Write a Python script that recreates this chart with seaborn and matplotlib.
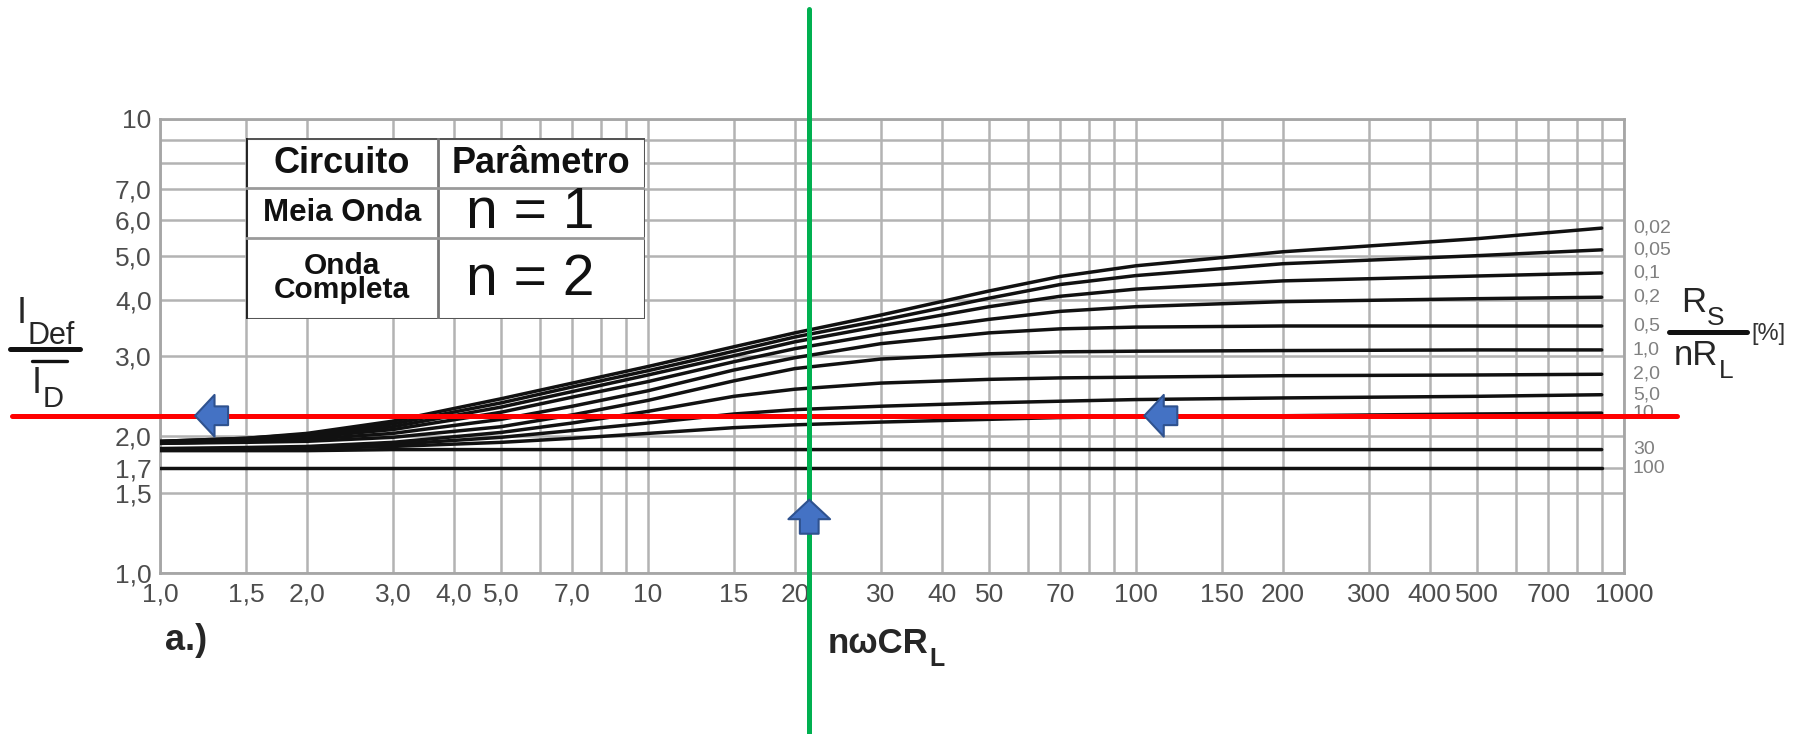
import numpy as np
import pandas as pd
import matplotlib
matplotlib.use('Agg')
import matplotlib.pyplot as plt
import matplotlib.transforms as mtransforms
from matplotlib.lines import Line2D
from matplotlib.patches import Rectangle
from matplotlib.ticker import NullLocator
import seaborn as sns

# ─────────────────────────────────────────────
# DADOS
# ─────────────────────────────────────────────
X_PTS = [1, 1.5, 2, 3, 5, 7, 10, 15, 20, 30, 50, 70, 100, 200, 500, 900]

RS_LABELS = ['0,02', '0,05', '0,1', '0,2', '0,5', '1,0', '2,0', '5,0', '10', '30', '100']

rs_0_02 = [1.95, 1.98, 2.03, 2.16, 2.42, 2.62, 2.85, 3.15, 3.38, 3.70, 4.18, 4.50, 4.75, 5.10, 5.45, 5.75]
rs_0_05 = [1.95, 1.98, 2.02, 2.13, 2.37, 2.57, 2.79, 3.08, 3.31, 3.60, 4.03, 4.32, 4.52, 4.80, 5.00, 5.15]
rs_0_1  = [1.94, 1.97, 2.00, 2.10, 2.32, 2.51, 2.73, 3.01, 3.23, 3.50, 3.86, 4.07, 4.22, 4.40, 4.51, 4.58]
rs_0_2  = [1.94, 1.96, 1.99, 2.07, 2.26, 2.44, 2.64, 2.92, 3.12, 3.36, 3.62, 3.77, 3.86, 3.96, 4.02, 4.05]
rs_0_5  = [1.93, 1.95, 1.97, 2.03, 2.18, 2.33, 2.52, 2.80, 2.98, 3.20, 3.38, 3.45, 3.48, 3.50, 3.50, 3.50]
rs_1_0  = [1.93, 1.94, 1.95, 1.99, 2.10, 2.23, 2.40, 2.65, 2.82, 2.96, 3.04, 3.07, 3.08, 3.09, 3.10, 3.10]
rs_2_0  = [1.88, 1.89, 1.90, 1.94, 2.04, 2.14, 2.27, 2.45, 2.54, 2.62, 2.67, 2.69, 2.70, 2.72, 2.73, 2.74]
rs_5_0  = [1.87, 1.88, 1.89, 1.92, 1.99, 2.06, 2.14, 2.24, 2.29, 2.33, 2.37, 2.39, 2.41, 2.43, 2.45, 2.47]
rs_10   = [1.87, 1.87, 1.88, 1.90, 1.94, 1.98, 2.03, 2.09, 2.12, 2.15, 2.18, 2.20, 2.21, 2.22, 2.24, 2.25]
rs_30   = [1.86, 1.86, 1.86, 1.87, 1.87, 1.87, 1.87, 1.87, 1.87, 1.87, 1.87, 1.87, 1.87, 1.87, 1.87, 1.87]
rs_100  = [1.70, 1.70, 1.70, 1.70, 1.70, 1.70, 1.70, 1.70, 1.70, 1.70, 1.70, 1.70, 1.70, 1.70, 1.70, 1.70]

CURVES = [rs_0_02, rs_0_05, rs_0_1, rs_0_2, rs_0_5, rs_1_0,
          rs_2_0, rs_5_0, rs_10, rs_30, rs_100]

X_GRID = [1, 1.5, 2, 3, 4, 5, 6, 7, 8, 9, 10, 15, 20, 30, 40, 50, 60, 70, 80, 90,
          100, 150, 200, 300, 400, 500, 600, 700, 800, 900, 1000]
X_LABELS = ['1,0', '1,5', '2,0', '3,0', '4,0', '5,0', '', '7,0', '', '', '10', '15',
            '20', '30', '40', '50', '', '70', '', '', '100', '150', '200', '300',
            '400', '500', '', '700', '', '', '1000']
Y_GRID = [1, 1.5, 1.7, 2, 3, 4, 5, 6, 7, 8, 9, 10]
Y_LABELS = ['1,0', '1,5', '1,7', '2,0', '3,0', '4,0', '5,0', '6,0', '7,0', '', '', '10']

# linhas de leitura (verde / vermelha)
READ_X = 21.4
READ_Y = 2.22

# ─────────────────────────────────────────────
# ESTILO
# ─────────────────────────────────────────────
sns.set_theme(style='white')
plt.rcParams['font.family'] = ['Liberation Sans', 'DejaVu Sans']
NARROW = ['Liberation Sans Narrow', 'Liberation Sans', 'DejaVu Sans']

W, H = 1802, 734
fig = plt.figure(figsize=(W / 100, H / 100), dpi=100)


def fx(px):
    return px / W


def fy(py):
    return 1 - py / H


ax = fig.add_axes([fx(160), fy(573), (1624 - 160) / W, (573 - 119) / H])

df = pd.DataFrame({
    'x': X_PTS * len(CURVES),
    'y': np.concatenate(CURVES),
    'rs': np.repeat(RS_LABELS, len(X_PTS)),
})
sns.lineplot(data=df, x='x', y='y', hue='rs', hue_order=RS_LABELS,
             palette=['#111111'] * len(RS_LABELS), legend=False,
             estimator=None, sort=False, linewidth=2.5, ax=ax, zorder=3)

ax.set_xscale('log')
ax.set_yscale('log')
ax.set_xlim(1, 1000)
ax.set_ylim(1, 10)
ax.set_xticks(X_GRID)
ax.set_xticklabels(X_LABELS)
ax.set_yticks(Y_GRID)
ax.set_yticklabels(Y_LABELS)
ax.xaxis.set_minor_locator(NullLocator())
ax.yaxis.set_minor_locator(NullLocator())
ax.set_xlabel('')
ax.set_ylabel('')
ax.grid(True, color='#b3b3b3', linewidth=1.8)
ax.tick_params(length=0, labelsize=19, labelcolor='#4d4d4d')
ax.tick_params(axis='x', pad=7)
ax.tick_params(axis='y', pad=6)
for lbl in ax.get_xticklabels() + ax.get_yticklabels():
    lbl.set_fontfamily(NARROW)
for sp in ax.spines.values():
    sp.set_color('#a6a6a6')
    sp.set_linewidth(2)

# rótulos das curvas (Rs/nRL)
trans = mtransforms.blended_transform_factory(ax.transAxes, ax.transData)
for lbl, curva in zip(RS_LABELS, CURVES):
    ax.text(1.006, curva[-1], lbl, transform=trans, ha='left', va='center',
            fontsize=14, color='#808080', family=NARROW)

# linhas de leitura
ax.axhline(READ_Y, xmin=-0.101, xmax=1.036, color='#FF0000', lw=3.6,
           clip_on=False, zorder=5)
ax.axvline(READ_X, ymin=-0.355, ymax=1.242, color='#00B050', lw=3.6,
           clip_on=False, zorder=6)

# setas azuis
seta = 'simple,head_length=14,head_width=30,tail_width=13.5'
for tip, off in [((1.18, READ_Y), (33, 0)), ((104, READ_Y), (33, 0)),
                 ((READ_X, 1.45), (0, -34))]:
    ax.annotate('', xy=tip, xytext=off, textcoords='offset pixels',
                annotation_clip=False, zorder=7,
                arrowprops=dict(arrowstyle=seta, mutation_scale=1,
                                fc='#4472C4', ec='#2F528F', lw=1.5,
                                shrinkA=0, shrinkB=0))

# ─────────────────────────────────────────────
# TABELA (Circuito / Parâmetro)
# ─────────────────────────────────────────────
tx0, tx1, ty0, ty1 = 246, 645, 138, 319
tab = fig.add_axes([fx(tx0), fy(ty1), (tx1 - tx0) / W, (ty1 - ty0) / H])
tab.set_xlim(tx0, tx1)
tab.set_ylim(ty1, ty0)
tab.axis('off')
tab.add_patch(Rectangle((tx0, ty0), tx1 - tx0, ty1 - ty0, fc='white',
                        ec='#555555', lw=2.2))
tab.plot([tx0, tx0], [ty0, ty1], color='#222222', lw=2.6)
tab.plot([438, 438], [ty0, ty1], color='#777777', lw=2)
for yy in [188, 238]:
    tab.plot([tx0, tx1], [yy, yy], color='#9a9a9a', lw=2)

tab.text(342, 164, 'Circuito', ha='center', va='center', fontsize=26,
         fontweight='bold', color='#111111')
tab.text(541, 164, 'Parâmetro', ha='center', va='center', fontsize=26,
         fontweight='bold', color='#111111')
tab.text(342, 213, 'Meia Onda', ha='center', va='center', fontsize=22.5,
         fontweight='bold', color='#111111')
tab.text(342, 278, 'Onda\nCompleta', ha='center', va='center', fontsize=21.5,
         fontweight='bold', color='#111111', linespacing=0.85)
tab.text(530, 213, 'n = 1', ha='center', va='center', fontsize=41,
         color='#111111')
tab.text(530, 280, 'n = 2', ha='center', va='center', fontsize=41,
         color='#111111')

# ─────────────────────────────────────────────
# EIXOS: rótulos
# ─────────────────────────────────────────────
def subscrito(base, texto, size, dy, weight='normal'):
    # subscrito colado à direita do texto base
    ax.annotate(texto, xy=(1, 0), xycoords=base, xytext=(0.5, dy),
                textcoords='offset points', ha='left', va='baseline',
                fontsize=size, fontweight=weight, annotation_clip=False)


# I_Def / I_D (esquerda)
t = fig.text(fx(17), fy(323), 'I', fontsize=26, ha='left', va='baseline')
subscrito(t, 'Def', 22, -9)
fig.add_artist(Line2D([fx(10), fx(80)], [fy(349), fy(349)], color='#111111',
                      lw=3.6, transform=fig.transFigure))
fig.add_artist(Line2D([fx(32), fx(67)], [fy(361), fy(361)], color='#111111',
                      lw=2.4, transform=fig.transFigure))
t = fig.text(fx(32), fy(393), 'I', fontsize=26, ha='left', va='baseline')
subscrito(t, 'D', 21, -4)

# Rs / nRL [%] (direita)
t = fig.text(fx(1681), fy(312), 'R', fontsize=25, ha='left', va='baseline')
subscrito(t, 'S', 19, -4)
fig.add_artist(Line2D([fx(1669), fx(1747)], [fy(332), fy(332)], color='#111111',
                      lw=3.6, transform=fig.transFigure))
t = fig.text(fx(1674), fy(365), 'nR', fontsize=25, ha='left', va='baseline')
subscrito(t, 'L', 19, -4)
fig.text(fx(1751), fy(340), '[%]', fontsize=17, ha='left', va='baseline',
         color='#333333')

# nωCR_L e a.)
t = fig.text(fx(828), fy(653), 'nωCR', fontsize=25, fontweight='bold',
             ha='left', va='baseline')
subscrito(t, 'L', 18, -4, 'bold')
fig.text(fx(165), fy(650), 'a.)', fontsize=26, fontweight='bold',
         ha='left', va='baseline')

fig.savefig('out.png', dpi=100)
